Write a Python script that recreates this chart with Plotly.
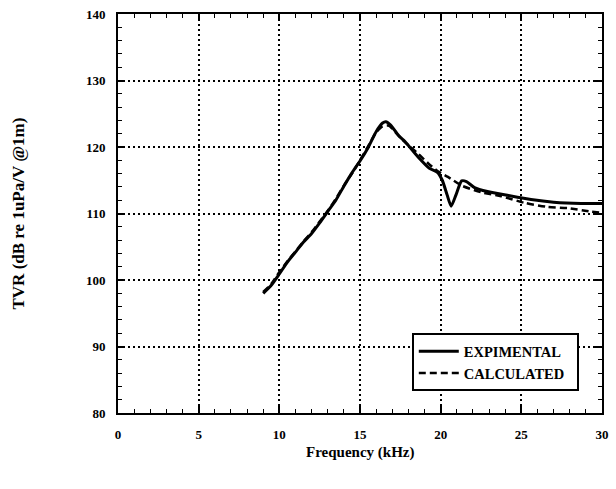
import plotly.graph_objects as go

freq_exp = [9.0, 9.5, 10.0, 10.5, 11.0, 11.5, 12.0, 12.5, 13.0, 13.5, 14.0, 14.5, 15.0, 15.5,
            16.0, 16.4, 16.6, 16.9, 17.4, 17.8, 18.6, 19.3, 19.8, 20.1, 20.4, 20.65, 20.95,
            21.3, 21.6, 22.1, 22.9, 24.2, 25.6, 27.0, 28.7, 30.0]
tvr_exp = [98.0, 99.2, 100.9, 102.7, 104.2, 105.7, 107.0, 108.6, 110.3, 112.0, 114.1, 116.1, 117.9, 119.9,
           122.3, 123.6, 123.8, 123.3, 121.7, 120.8, 118.5, 116.8, 116.2, 115.0, 112.8, 111.1, 112.8,
           114.9, 114.8, 113.9, 113.3, 112.7, 112.1, 111.7, 111.5, 111.5]

freq_calc = [9.0, 9.5, 10.0, 10.5, 11.0, 11.5, 12.0, 12.5, 13.0, 13.5, 14.0, 14.5, 15.0, 15.5,
             16.0, 16.4, 16.8, 17.2, 17.8, 18.6, 19.2, 19.8, 20.45, 21.3, 22.5, 23.75, 25.2,
             26.6, 27.9, 29.3, 30.0]
tvr_calc = [98.2, 99.4, 101.2, 102.8, 104.3, 105.8, 107.2, 108.8, 110.4, 112.2, 114.2, 116.0, 118.0, 120.1,
            122.2, 123.1, 123.2, 122.2, 120.7, 119.0, 117.6, 116.4, 115.5, 114.2, 113.2, 112.6, 111.6,
            111.0, 110.8, 110.3, 110.1]

x_ticks = [0, 5, 10, 15, 20, 25, 30]
y_ticks = [80, 90, 100, 110, 120, 130, 140]

FONT = "Liberation Serif"

fig = go.Figure()
fig.add_trace(go.Scatter(x=freq_exp, y=tvr_exp, mode="lines", name="EXPIMENTAL",
                         line=dict(color="black", width=3, shape="spline", smoothing=0.6)))
fig.add_trace(go.Scatter(x=freq_calc, y=tvr_calc, mode="lines", name="CALCULATED  ",
                         line=dict(color="black", width=2.5, dash="7px,4px", shape="spline", smoothing=0.6)))

axis_common = dict(
    showline=True, linecolor="black", linewidth=2, mirror="allticks",
    ticks="inside", ticklen=7, tickwidth=1.5, tickcolor="black",
    showgrid=True, gridcolor="black", gridwidth=1.6, griddash="2px,3px",
    zeroline=False,
    tickfont=dict(family=FONT, size=13, color="black", weight="bold"),
)

fig.update_xaxes(range=[0, 30], tickvals=x_ticks, ticktext=[str(v) for v in x_ticks],
                 minor=dict(dtick=1, ticks="inside", ticklen=4, tickcolor="black", tickwidth=1.3, showgrid=False),
                 ticklabelstandoff=8, **axis_common)
fig.update_yaxes(range=[80, 140], tickvals=y_ticks, ticktext=[str(v) for v in y_ticks],
                 minor=dict(dtick=2, ticks="inside", ticklen=4, tickcolor="black", tickwidth=1.3, showgrid=False),
                 ticklabelstandoff=8, **axis_common)

fig.update_layout(
    width=616, height=489,
    margin=dict(l=118, r=7, t=11, b=76),
    paper_bgcolor="white", plot_bgcolor="white",
    showlegend=True,
    legend=dict(x=0.607, y=0.20, xanchor="left", yanchor="top",
                bgcolor="white", bordercolor="black", borderwidth=2,
                font=dict(family=FONT, size=14.5, color="black", weight="bold"),
                tracegroupgap=0, itemwidth=40),
    annotations=[
        dict(text="Frequency (kHz)", xref="paper", yref="paper", x=0.5, y=0, yshift=-29,
             xanchor="center", yanchor="top", showarrow=False,
             font=dict(family=FONT, size=15, color="black", weight="bold")),
        dict(text="TVR (dB re 1uPa/V @1m)", xref="paper", yref="paper", x=0, y=0.5,
             xshift=-100, textangle=-90, xanchor="center", yanchor="middle", showarrow=False,
             font=dict(family=FONT, size=17, color="black", weight="bold")),
    ],
)

fig.write_html("out.html")
